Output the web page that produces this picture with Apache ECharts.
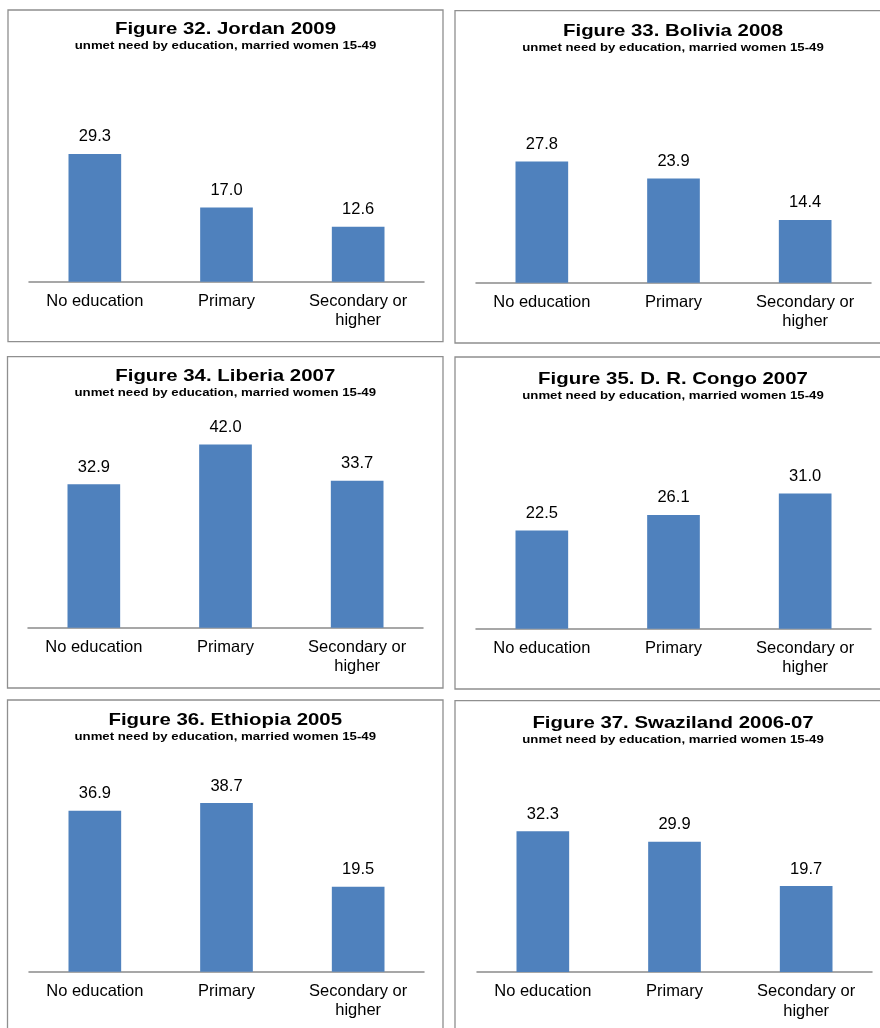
<!DOCTYPE html>
<html>
<head>
<meta charset="utf-8">
<script src="https://cdn.jsdelivr.net/npm/echarts@6/dist/echarts.min.js"></script>
<style>
  html, body { margin: 0; padding: 0; background: #ffffff; }
  #chart { width: 880px; height: 1028px; }
</style>
</head>
<body>
<div id="chart"></div>
<script>
// Unmet need for family planning by education, married women 15-49
const categories = ['No education', 'Primary', 'Secondary or\nhigher'];

const figureTitles = [
  'Figure 32. Jordan 2009',
  'Figure 33. Bolivia 2008',
  'Figure 34. Liberia 2007',
  'Figure 35. D. R. Congo 2007',
  'Figure 36. Ethiopia 2005',
  'Figure 37. Swaziland 2006-07'
];
const subtitle = 'unmet need by education, married women 15-49';

const jordan2009 = [29.3, 17.0, 12.6];
const bolivia2008 = [27.8, 23.9, 14.4];
const liberia2007 = [32.9, 42.0, 33.7];
const drCongo2007 = [22.5, 26.1, 31.0];
const ethiopia2005 = [36.9, 38.7, 19.5];
const swaziland2006 = [32.3, 29.9, 19.7];

const seriesValues = [jordan2009, bolivia2008, liberia2007, drCongo2007, ethiopia2005, swaziland2006];

// Panel frames and plot placement (px)
const frames = [
  { x: 8,   y: 10,    w: 435, h: 331.7, axisY: 281.7, left: 29,  titleY: 29,  subY: 46 },
  { x: 455, y: 10.7,  w: 436, h: 332.3, axisY: 282.7, left: 476, titleY: 31,  subY: 47.5 },
  { x: 7.5, y: 356.7, w: 435.5, h: 331.3, axisY: 627.7, left: 28,  titleY: 376, subY: 393 },
  { x: 455, y: 357,   w: 436, h: 332,   axisY: 628.7, left: 476, titleY: 379, subY: 396 },
  { x: 7.5, y: 700,   w: 435.5, h: 400, axisY: 971.7, left: 29,  titleY: 720, subY: 737 },
  { x: 455, y: 700.7, w: 436, h: 400,   axisY: 972,   left: 477, titleY: 723, subY: 740 }
];

const Y_MAX = 50;
const PLOT_H = 218;   // 4.36 px per percentage point
const PLOT_W = 395;
const FONT = '"Liberation Sans", Arial, Helvetica, sans-serif';

const grids = [], xAxes = [], yAxes = [], series = [], graphics = [];

frames.forEach((f, i) => {
  grids.push({ left: f.left, top: f.axisY - PLOT_H, width: PLOT_W, height: PLOT_H, containLabel: false });
  xAxes.push({
    type: 'category',
    gridIndex: i,
    data: categories,
    axisLine: { show: true, lineStyle: { color: '#8a8a8a', width: 1.5 } },
    axisTick: { show: false },
    axisLabel: {
      interval: 0,
      margin: 10,
      color: '#000000',
      fontFamily: FONT,
      fontSize: 16.5,
      lineHeight: 19.5,
      align: 'center'
    },
    splitLine: { show: false }
  });
  yAxes.push({
    type: 'value',
    gridIndex: i,
    min: 0,
    max: Y_MAX,
    show: false,
    splitLine: { show: false }
  });
  series.push({
    type: 'bar',
    xAxisIndex: i,
    yAxisIndex: i,
    data: seriesValues[i],
    barWidth: '40%',
    itemStyle: { color: '#4f81bd' },
    label: {
      show: true,
      position: 'top',
      distance: 8,
      color: '#000000',
      fontFamily: FONT,
      fontSize: 16.5,
      lineHeight: 18,
      formatter: p => p.value.toFixed(1)
    },
    silent: true,
    animation: false
  });

  const cx = f.x + f.w / 2;
  graphics.push({
    type: 'rect',
    silent: true,
    z: 0,
    shape: { x: f.x, y: f.y, width: f.w, height: f.h },
    style: { fill: 'none', stroke: '#8f8f8f', lineWidth: 1.3 }
  });
  graphics.push({
    type: 'text',
    silent: true,
    x: cx,
    y: f.titleY,
    scaleX: 1.2,
    style: {
      text: figureTitles[i],
      font: 'bold 17px ' + FONT,
      fill: '#000000',
      align: 'center',
      verticalAlign: 'middle',
      textAlign: 'center',
      textVerticalAlign: 'middle'
    }
  });
  graphics.push({
    type: 'text',
    silent: true,
    x: cx,
    y: f.subY,
    scaleX: 1.2,
    style: {
      text: subtitle,
      font: 'bold 11px ' + FONT,
      fill: '#000000',
      align: 'center',
      verticalAlign: 'middle',
      textAlign: 'center',
      textVerticalAlign: 'middle'
    }
  });
});

const chart = echarts.init(document.getElementById('chart'), null, { renderer: 'canvas' });
chart.setOption({
  backgroundColor: '#ffffff',
  animation: false,
  grid: grids,
  xAxis: xAxes,
  yAxis: yAxes,
  series: series,
  graphic: { elements: graphics }
});
</script>
</body>
</html>
